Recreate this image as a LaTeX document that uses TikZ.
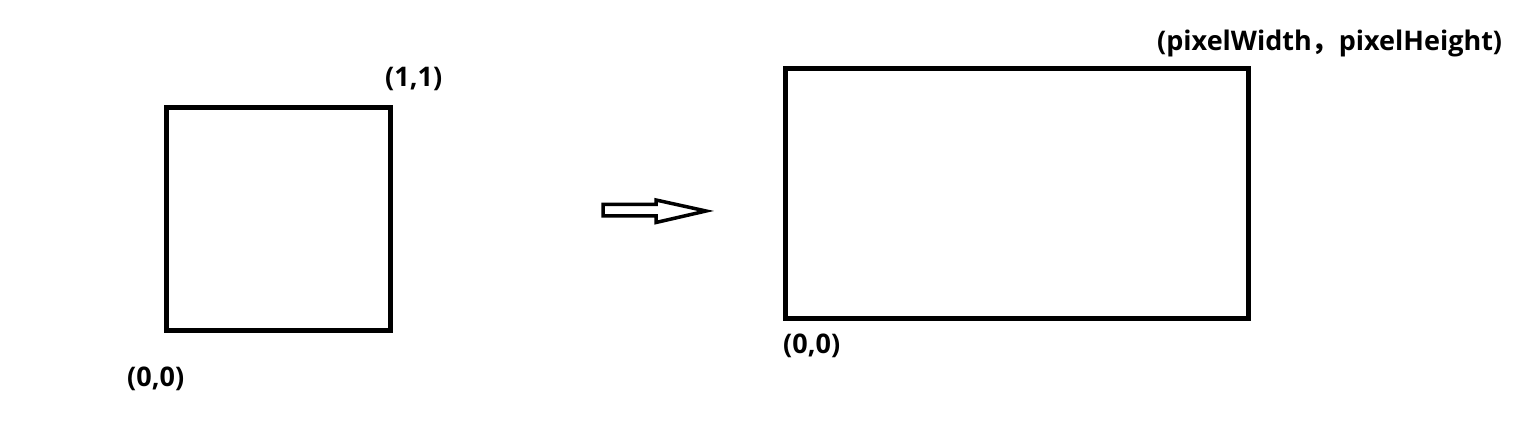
\documentclass[tikz,border=0pt]{standalone}
\usepackage{fontspec}
\setmainfont{Open Sans}[BoldFont={* Bold}]
\newfontfamily\cjk{Noto Sans CJK SC}
\begin{document}
\begin{tikzpicture}[x=1pt,y=-1pt,
  box/.style={draw=black,line width=5pt},
  lbl/.style={font=\bfseries\fontsize{27}{31}\selectfont,inner sep=0pt,anchor=west},
  fatarrow/.style={draw=black,line width=3.5pt,line join=miter}]
\useasboundingbox (0,0) rectangle (1523,443);
\draw[box] (166.7,108) rectangle (390.5,330.5);
\draw[box] (785,68.5) rectangle (1248.5,319);
\node[lbl] (l11) at (385,79) {(1,1)};
\node[lbl] (l00a) at (127,379) {(0,0)};
\node[lbl] (l00b) at (783,346) {(0,0)};
\node[lbl] (lpx) at (1157,43) {(pixelWidth{\cjk ，}pixelHeight)};
\draw[fatarrow] (603,204.5) -- (656,204.5) -- (656,200) -- (706,211) -- (656,222.5) -- (656,216) -- (603,216) -- cycle;
\end{tikzpicture}
\end{document}
